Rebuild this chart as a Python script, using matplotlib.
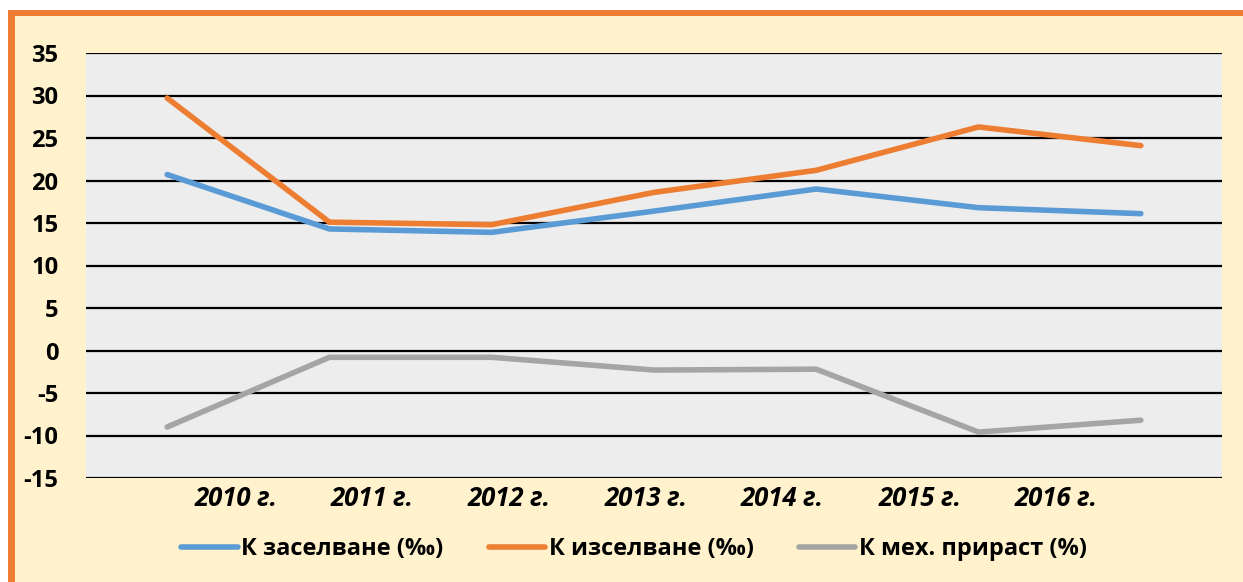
import matplotlib
matplotlib.use('Agg')
from matplotlib import pyplot as plt
from matplotlib.patches import Rectangle

plt.rcParams['font.family'] = ['Open Sans', 'DejaVu Sans']
plt.rcParams['axes.unicode_minus'] = False

# данни
years = ['2010 г.', '2011 г.', '2012 г.', '2013 г.', '2014 г.', '2015 г.', '2016 г.']
k_zaselvane = [20.7, 14.3, 13.9, 16.4, 19.0, 16.8, 16.1]
k_izselvane = [29.7, 15.1, 14.8, 18.6, 21.2, 26.3, 24.1]
k_meh_prirast = [-9.0, -0.8, -0.8, -2.3, -2.2, -9.6, -8.2]
series_names = ['К заселване (‰)', 'К изселване (‰)', 'К мех. прираст (%)']
colors = ['#5B9BD5', '#ED7D31', '#A5A5A5']

# надписите по оста x са изместени спрямо точките (както в оригинала)
label_pos = [0.425, 1.265, 2.11, 2.95, 3.79, 4.64, 5.48]

W, H = 1243, 582
fig = plt.figure(figsize=(W / 100, H / 100), dpi=100)
fig.patch.set_facecolor('white')

# фон и оранжева рамка
fig.add_artist(Rectangle((8 / W, 0), 1 - 8 / W, 1 - 10 / H,
                         transform=fig.transFigure, facecolor='#FFF2CC',
                         edgecolor='none', zorder=0))
fig.add_artist(Rectangle((8 / W, 1 - 16 / H), 1 - 8 / W, 6 / H,
                         transform=fig.transFigure, facecolor='#ED7D31',
                         edgecolor='none', zorder=1))
fig.add_artist(Rectangle((8 / W, 0), 7 / W, 1 - 10 / H,
                         transform=fig.transFigure, facecolor='#ED7D31',
                         edgecolor='none', zorder=1))

ax = fig.add_axes([86 / W, 1 - 478 / H, 1136 / W, 425 / H])
ax.set_facecolor('#EDEDED')

x = list(range(len(years)))
for vals, name, c in zip([k_zaselvane, k_izselvane, k_meh_prirast], series_names, colors):
    ax.plot(x, vals, color=c, lw=4, solid_capstyle='round',
            solid_joinstyle='round', label=name, zorder=3)

ax.set_xlim(-0.5, 6.5)
ax.set_ylim(-15, 35)
ax.set_yticks(range(-15, 36, 5))
ax.yaxis.grid(True, color='black', lw=1.6, zorder=1)
ax.set_axisbelow(True)
for s in ax.spines.values():
    s.set_visible(False)

ax.set_xticks(label_pos)
ax.set_xticklabels(years, fontsize=18.5, fontweight='bold', style='italic')
ax.tick_params(axis='x', length=0, pad=5)
ax.tick_params(axis='y', length=0, pad=20, labelsize=17)
for t in ax.get_yticklabels():
    t.set_fontweight('bold')

leg = fig.legend(loc='center', bbox_to_anchor=(634 / W, 1 - 549 / H), ncol=3,
                 frameon=False, prop={'size': 17, 'weight': 'bold'},
                 handlelength=2.4, handletextpad=0.15, columnspacing=1.9)

plt.savefig('out.png', dpi=100, facecolor=fig.get_facecolor())
